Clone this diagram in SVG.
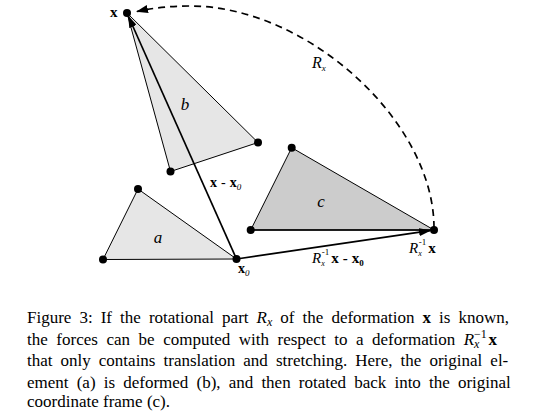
<svg xmlns="http://www.w3.org/2000/svg" width="536" height="412" viewBox="0 0 536 412">
<style>
.tri{stroke:#000;stroke-width:1;stroke-linejoin:round}
.light{fill:#e6e6e6}
.dark{fill:#cccccc}
.dot{fill:#000}
.vec{stroke:#000;stroke-width:1.7;fill:none}
.edge{stroke:#000;stroke-width:1.5;fill:none}
.arc{stroke:#000;stroke-width:1.7;fill:none;stroke-dasharray:7 5}
.lbl{font-family:"Liberation Serif",serif;fill:#000}
.it{font-style:italic}
.bd{font-weight:bold}
.cap{font-family:"Liberation Serif",serif;font-size:17px;fill:#000}
</style>
<defs>
<marker id="ah" viewBox="0 0 12 8" refX="11" refY="4" markerWidth="12" markerHeight="8" markerUnits="userSpaceOnUse" orient="auto">
<path d="M0,0 L12,4 L0,8 Z" fill="#000"/>
</marker>
</defs>
<rect width="536" height="412" fill="#fff"/>
<g id="triangle-a">
<polygon class="tri light" points="103,259.5 138,189 236.5,259"/>
<text class="lbl it" x="158" y="243" font-size="17" text-anchor="middle">a</text>
</g>
<g id="triangle-b">
<polygon class="tri light" points="127,13 258,142.5 170.5,171.5"/>
<text class="lbl it" x="185" y="110" font-size="17" text-anchor="middle">b</text>
</g>
<g id="triangle-c">
<polygon class="tri dark" points="291.7,147.7 250.7,230 434,230"/>
<line class="edge" x1="250.7" y1="230" x2="430" y2="230"/>
<text class="lbl it" x="321" y="207" font-size="17" text-anchor="middle">c</text>
</g>
<g id="connectors">
<line class="vec" x1="236.5" y1="259" x2="128.5" y2="16.5" marker-end="url(#ah)"/>
<line class="vec" x1="236.5" y1="259" x2="430" y2="230.6" marker-end="url(#ah)"/>
<path class="arc" d="M434,228 C434,121 307,6 190,6 C170,6 152,8 137,11.5" marker-end="url(#ah)"/>
</g>
<g id="points">
<circle class="dot" cx="127" cy="13" r="4"/>
<circle class="dot" cx="258" cy="142.5" r="4"/>
<circle class="dot" cx="170.5" cy="171.5" r="4"/>
<circle class="dot" cx="103" cy="259.5" r="4"/>
<circle class="dot" cx="138" cy="189" r="4"/>
<circle class="dot" cx="236.5" cy="259" r="4"/>
<circle class="dot" cx="291.7" cy="147.7" r="4"/>
<circle class="dot" cx="250.7" cy="230" r="4"/>
<circle class="dot" cx="434" cy="230" r="4"/>
</g>
<g id="labels">
<text class="lbl bd" x="110" y="17" font-size="15">x</text>
<text class="lbl" x="210" y="187" font-size="14"><tspan class="bd">x</tspan><tspan dx="4">-</tspan><tspan class="bd" dx="4">x</tspan><tspan class="it" font-size="9" dy="3">0</tspan></text>
<text class="lbl" x="238" y="273" font-size="14"><tspan class="bd">x</tspan><tspan class="it" font-size="9" dy="3">0</tspan></text>
<text class="lbl" x="312" y="263" font-size="15"><tspan class="it">R</tspan><tspan class="it" font-size="8" dy="3">x</tspan><tspan font-size="9" dx="-3" dy="-11">-1</tspan><tspan class="bd" dx="2" dy="8">x</tspan><tspan dx="4" class="bd">-</tspan><tspan dx="4" class="bd">x</tspan><tspan class="bd" font-size="9" dy="3">0</tspan></text>
<text class="lbl" x="409" y="253" font-size="15"><tspan class="it">R</tspan><tspan class="it" font-size="8" dy="3">x</tspan><tspan font-size="9" dx="-3" dy="-11">-1</tspan><tspan class="bd" dx="2" dy="8">x</tspan></text>
<text class="lbl" x="312" y="68" font-size="16"><tspan class="it">R</tspan><tspan class="it" font-size="9" dy="3">x</tspan></text>
</g>
<g id="caption">
<text class="cap" x="27" y="323" word-spacing="3.8">Figure 3: If the rotational part <tspan class="it">R</tspan><tspan class="it" font-size="12" dy="3">x</tspan><tspan dy="-3"> of the deformation </tspan><tspan class="bd">x</tspan> is known,</text>
<text class="cap" x="27" y="344.5" word-spacing="4.3">the forces can be computed with respect to a deformation <tspan class="it">R</tspan><tspan font-size="12" dy="-7">−1</tspan><tspan class="it" font-size="12" dx="-12.8" dy="10">x</tspan><tspan class="bd" dx="9" dy="-3">x</tspan></text>
<text class="cap" x="27" y="366" word-spacing="3.8">that only contains translation and stretching. Here, the original el-</text>
<text class="cap" x="27" y="387.5" word-spacing="3.9">ement (a) is deformed (b), and then rotated back into the original</text>
<text class="cap" x="27" y="407">coordinate frame (c).</text>
</g>
</svg>
